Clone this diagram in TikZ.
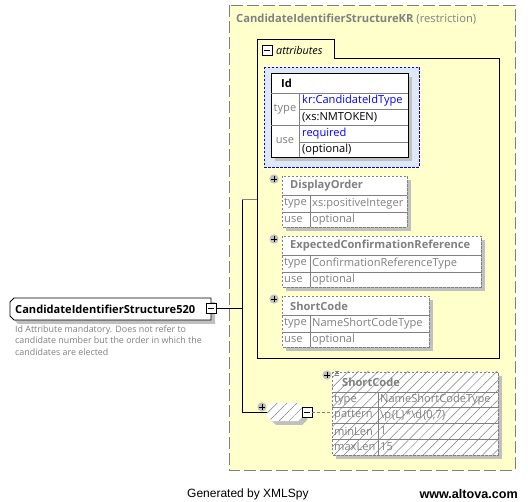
\documentclass[tikz,border=0pt]{standalone}
\usepackage{fontspec}
\setmainfont{Open Sans}
\newfontfamily\footfont{Liberation Sans}
\usetikzlibrary{patterns.meta}
\definecolor{ylw}{RGB}{255,255,204}
\definecolor{bord}{RGB}{128,128,128}
\definecolor{idfill}{RGB}{221,232,248}
\definecolor{shad}{RGB}{192,192,192}
\definecolor{txtgray}{RGB}{128,128,128}
\definecolor{lnk}{RGB}{0,0,255}
\tikzset{
  lbl/.style={anchor=west, inner sep=0pt, font=\fontsize{11.1}{12}\selectfont},
  glbl/.style={lbl, text=txtgray},
  hdr/.style={anchor=west, inner sep=0pt, font=\fontsize{11.1}{12}\selectfont\bfseries},
  optbox/.style={draw=bord, dash pattern=on 2.5pt off 1.5pt, fill=white},
  rowline/.style={draw=bord, line width=0.6pt},
  hatch/.style={pattern={Lines[angle=45,distance=7pt,line width=0.5pt]}, pattern color=bord},
  plusc/.pic={\fill[shad] (0,0) circle (4.6); \draw[line width=0.9pt] (-2.6,0)--(2.6,0) (0,-2.6)--(0,2.6);},
  minusb/.pic={\draw[fill=white, line width=0.8pt] (-5,-5) rectangle (5,5); \draw[line width=0.8pt] (-2.8,0)--(2.8,0);}
}
\begin{document}
\begin{tikzpicture}[x=1pt,y=-1pt]
\useasboundingbox (0,0) rectangle (528,502);

% outer restriction box
\draw[bord, dash pattern=on 12pt off 4pt, fill=ylw, line width=0.9pt] (229,5) rectangle (515,470);
\node[anchor=west, inner sep=0pt, text=txtgray, font=\fontsize{11.2}{12}\selectfont] (ttl) at (236,19)
  {\textbf{CandidateIdentifierStructureKR} (restriction)};

% attributes group
\draw[line width=0.9pt] (257,358) -- (257,39) -- (334,39) -- (334,58) -- (499,58) -- (499,358) -- cycle;
\pic at (267,50) {minusb};
\node[anchor=west, inner sep=0pt, font=\fontsize{10.8}{12}\selectfont\itshape] (attr) at (276,50) {attributes};

% Id attribute
\draw[lnk, dash pattern=on 2.5pt off 1.5pt, fill=idfill, line width=0.8pt] (264,67) rectangle (419,167);
\fill[shad] (275,77) rectangle (412,161);
\draw[fill=white, line width=0.9pt] (271,73) rectangle (408,157);
\draw[rowline] (271,93) -- (408,93) (271,125) -- (408,125) (299,93) -- (299,157)
  (299,109) -- (408,109) (299,142) -- (408,142);
\node[hdr] (id) at (281,83) {Id};
\node[glbl, anchor=center] (idt) at (285,109) {type};
\node[lbl, text=lnk] (idt1) at (302,101) {kr:CandidateIdType};
\node[lbl] (idt2) at (302,117.5) {(xs:NMTOKEN)};
\node[glbl, anchor=center] (idu) at (285,141) {use};
\node[lbl, text=lnk] (idu1) at (302,133.5) {required};
\node[lbl] (idu2) at (302,150) {(optional)};

% optional attributes
\foreach \nm/\ty/\x/\y/\r in {DisplayOrder/xs:positiveInteger/282/176/407,
  ExpectedConfirmationReference/ConfirmationReferenceType/282/236/481,
  ShortCode/NameShortCodeType/282/296/429}{
  \fill[shad] (\x+4,\y+4) rectangle (\r+4,\y+55);
  \draw[optbox] (\x,\y) rectangle (\r,\y+51);
  \draw[rowline] (\x,\y+19) -- (\r,\y+19) (\x,\y+36) -- (\r,\y+36) (310,\y+19) -- (310,\y+51);
  \node[hdr, text=txtgray] (h\y) at (290,\y+10) {\nm};
  \node[glbl] (t\y) at (284,\y+27.5) {type};
  \node[glbl] (tv\y) at (312,\y+27.5) {\ty};
  \node[glbl] (u\y) at (284,\y+44) {use};
  \node[glbl] (uv\y) at (312,\y+44) {optional};
  \pic at (274,\y+3) {plusc};
}

% root element
\fill[shad] (18,302) -- (215,302) -- (215,324) -- (18,324) -- (14,320) -- (14,306) -- cycle;
\draw[fill=white, line width=0.9pt] (14,298) -- (211,298) -- (211,320) -- (14,320) -- (10,316) -- (10,302) -- cycle;
\node[anchor=west, inner sep=0pt, font=\fontsize{11.1}{12}\selectfont\bfseries] (root) at (15,309) {CandidateIdentifierStructure520};
\pic at (211,308.5) {minusb};
\coordinate (rootout) at (216,308.5);
\node[anchor=north west, inner sep=0pt, text=txtgray, align=left, font=\fontsize{8.9}{11.3}\selectfont] (desc) at (15,325.5)
  {Id Attribute mandatory. Does not refer to\\candidate number but the order in which the\\candidates are elected};

% connectors
\coordinate (jtop) at (242,199);
\coordinate (jmid) at (242,308.5);
\coordinate (jbot) at (242,412);
\coordinate (attin) at (257,199);
\draw[line width=0.9pt] (rootout) -- (jmid);
\draw[line width=0.9pt] (jtop) -- (jbot);
\draw[bord, line width=0.9pt] (jtop) -- (attin);

% restriction (simple content) symbol
\fill[shad] (276,407) -- (302,407) -- (307,412) -- (307,420) -- (302,425) -- (276,425) -- (271,420) -- (271,412) -- cycle;
\filldraw[fill=white, draw=white] (272,403) -- (298,403) -- (303,408) -- (303,416) -- (298,421) -- (272,421) -- (267,416) -- (267,408) -- cycle;
\path[hatch] (272,403) -- (298,403) -- (303,408) -- (303,416) -- (298,421) -- (272,421) -- (267,416) -- (267,408) -- cycle;
\coordinate (symin) at (267,412);
\draw[line width=0.9pt] (jbot) -- (symin);
\pic at (262,407) {plusc};
\pic at (307,412.5) {minusb};
\coordinate (symout) at (312,412.5);
\coordinate (facin) at (332,412.5);
\draw[bord, dash pattern=on 3pt off 2pt, line width=0.8pt] (symout) -- (facin);

% facets box
\fill[shad] (336,376) rectangle (502,459);
\fill[white] (332,372) rectangle (498,455);
\path[hatch] (332,372) rectangle (498,455);
\draw[bord, dash pattern=on 2.5pt off 1.5pt, line width=0.8pt] (332,372) rectangle (498,455);
\draw[rowline] (332,392) -- (498,392) (332,407.5) -- (498,407.5) (332,423.5) -- (498,423.5) (332,439) -- (498,439) (378,392) -- (378,455);
\node[hdr, text=txtgray] (fh) at (342,382) {ShortCode};
\draw[bord, line width=0.5pt] (335,371) -- (339,371) (335,373) -- (339,373) (335,375) -- (339,375);
\pic at (327,375) {plusc};
\node[glbl] (f1) at (334,400) {type};
\node[glbl] (f1v) at (380,400) {NameShortCodeType};
\node[glbl] (f2) at (334,415.5) {pattern};
\node[glbl] (f2v) at (380,415.5) {\textbackslash p\{L\}*\textbackslash d\{0,7\}};
\node[glbl] (f3) at (334,431) {minLen};
\node[glbl] (f3v) at (380,431) {1};
\node[glbl] (f4) at (334,447) {maxLen};
\node[glbl] (f4v) at (380,447) {15};

% footer
\node[anchor=west, inner sep=0pt, font=\footfont\fontsize{12}{14}\selectfont] (gen) at (187,494) {Generated by XMLSpy};
\node[anchor=east, inner sep=0pt, font=\footfont\fontsize{12.6}{14}\selectfont\bfseries] (alt) at (518,494) {www.altova.com};
\end{tikzpicture}
\end{document}
